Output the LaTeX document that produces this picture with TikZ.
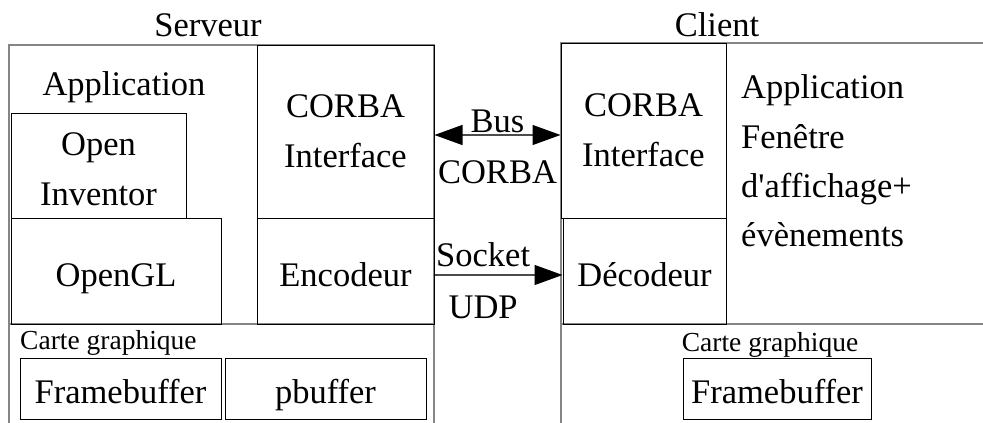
\documentclass[tikz,border=0pt]{standalone}
\usepackage{fontspec}
\setmainfont{Liberation Serif}
\usetikzlibrary{arrows.meta, positioning}
\definecolor{frame}{HTML}{858585}

\begin{document}
\begin{tikzpicture}[x=1pt, y=-1pt,
    big/.style={font=\fontsize{34.5}{50}\selectfont, inner sep=0pt},
    small/.style={font=\fontsize{27.5}{33}\selectfont, inner sep=0pt},
    box/.style={draw, line width=1pt, big, align=center},
    oneline/.style={text height=30pt, text depth=0pt},
    outer/.style={draw=frame, line width=1.6pt},
    arr/.style={draw=black!70, line width=1.2pt,
                -{Triangle[length=28pt, width=20pt, color=black, fill=black]}},
    darr/.style={arr, {Triangle[length=28pt, width=20pt, color=black, fill=black]}-{Triangle[length=28pt, width=20pt, color=black, fill=black]}}]
    \useasboundingbox (0,0) rectangle (983,423);
    \draw[outer] (9,423) |- (434,45) -- (434,423);
    \draw[outer] (9,324) -- (434,324);
    \draw[outer] (561,423) |- (983,43);
    \draw[outer] (561,324) -- (983,324);
    \node[big] (srv) at (208,25) {Serveur};
    \node[big] (srvapp) at (124,87) {Application};
    \node[box, minimum width=175pt, minimum height=105pt] (inv) at (98.5,165.5) {\rule{0pt}{30pt}Open\\Inventor};
    \node[box, minimum width=177pt, minimum height=173pt] (srvcorba) at (345.5,131.5) {CORBA\\Interface};
    \node[box, oneline, minimum width=210pt, minimum height=106pt] (gl) at (116,271) {OpenGL};
    \node[box, oneline, minimum width=177pt, minimum height=106pt] (enc) at (345.5,271) {Encodeur};
    \node[small, anchor=west] (srvcarte) at (20,343) {Carte graphique};
    \node[box, oneline, minimum width=201pt, minimum height=61pt] (srvfb) at (120.5,388.5) {Framebuffer};
    \node[box, oneline, minimum width=201pt, minimum height=61pt] (pbuf) at (325.5,388.5) {pbuffer};
    \node[big] (cli) at (717,25) {Client};
    \node[box, minimum width=165pt, minimum height=175pt] (clicorba) at (643.5,130.5) {CORBA\\Interface};
    \node[box, oneline, minimum width=163pt, minimum height=106pt] (dec) at (644.5,271) {Décodeur};
    \node[big, anchor=west, align=left, font=\fontsize{34.5}{49.3}\selectfont] (cliapp) at (741,161)
        {Application\\Fenêtre\\d\textquotesingle affichage+\\évènements};
    \node[small] (clicarte) at (770,345) {Carte graphique};
    \node[box, oneline, minimum width=188pt, minimum height=61pt] (clifb) at (777,388.5) {Framebuffer};
    \draw[darr] ([yshift=-3.5pt]srvcorba.east) -- ([yshift=-4.5pt]clicorba.west)
        node[big, midway, above=2pt] (bus) {Bus}
        node[big, midway, below=25pt] (busb) {CORBA};
    \draw[arr] ([yshift=-4pt]enc.east) -- ([yshift=-4pt]dec.west)
        node[big, pos=.38, above=8pt] (sock) {Socket}
        node[big, pos=.38, below=20pt] (udp) {UDP};
\end{tikzpicture}
\end{document}
